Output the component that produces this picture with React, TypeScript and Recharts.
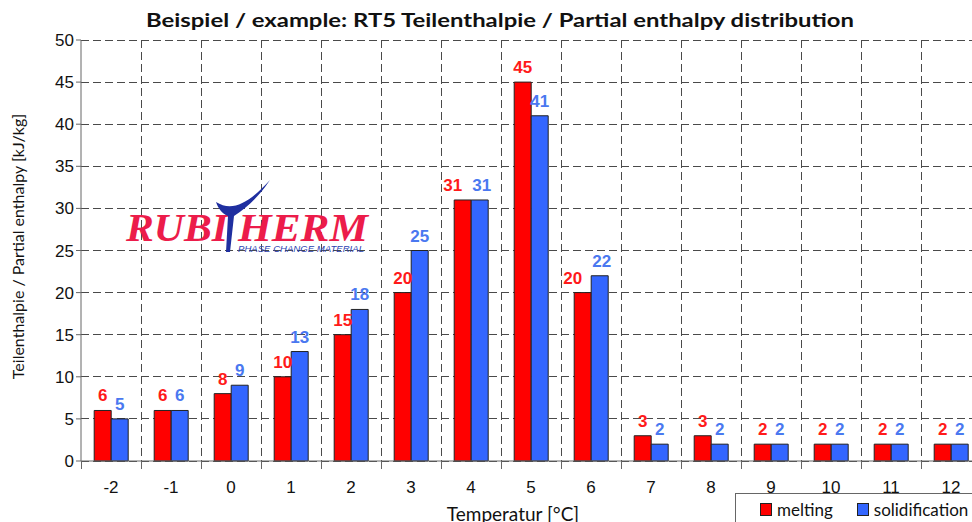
import {
  Bar,
  BarChart,
  CartesianGrid,
  LabelList,
  XAxis,
  YAxis,
} from "recharts";

const temperatures = ["-2", "-1", "0", "1", "2", "3", "4", "5", "6", "7", "8", "9", "10", "11", "12"];
const melting = [6, 6, 8, 10, 15, 20, 31, 45, 20, 3, 3, 2, 2, 2, 2];
const solidification = [5, 6, 9, 13, 18, 25, 31, 41, 22, 2, 2, 2, 2, 2, 2];
const yTicks = [0, 5, 10, 15, 20, 25, 30, 35, 40, 45, 50];

const TITLE = "Beispiel / example: RT5 Teilenthalpie / Partial enthalpy distribution";
const Y_LABEL = "Teilenthalpie / Partial enthalpy [kJ/kg]";
const X_LABEL = "Temperatur [°C]";

const SERIES = {
  melting: { label: "melting", fill: "#ff0000", text: "#ff1a1a" },
  solidification: { label: "solidification", fill: "#3366ff", text: "#4a78f0" },
};

const data = temperatures.map((t, i) => ({
  t,
  melting: melting[i],
  solidification: solidification[i],
}));

const CHART_W = 990;
const CHART_H = 522;
const MARGIN = { top: 40, right: 9, bottom: 0, left: 0 };
const Y_W = 81;
const X_H = 61;
const PLOT_W = CHART_W - MARGIN.left - MARGIN.right - Y_W;
const BAND = PLOT_W / temperatures.length;

const GRID = "#4a4a4a";
const TXT = "#111";
const NUM_FONT = "Liberation Sans, Arial, sans-serif";
const UI_FONT = "Lato, Calibri, sans-serif";

// x tick: category label plus a short tick mark at the category's left boundary
function XTick(props: any) {
  const { x, y, payload, index } = props;
  const left = Math.round(x - BAND / 2) + 0.5;
  return (
    <g>
      <line x1={left} x2={left} y1={y - 8} y2={y} stroke="#666" />
      {index === temperatures.length - 1 && (
        <line x1={left + BAND} x2={left + BAND} y1={y - 8} y2={y} stroke="#666" />
      )}
      <text x={x} y={y + 24} textAnchor="middle" fontSize={17} fill={TXT} fontFamily={NUM_FONT}>
        {payload.value}
      </text>
    </g>
  );
}

// value label; when both labels of a category would collide, push them apart like Excel does
function makeLabel(key: "melting" | "solidification") {
  return function ValueLabel(props: any) {
    const { x, y, width, value, index } = props;
    const other = key === "melting" ? solidification[index] : melting[index];
    const digits = String(value).length;
    const collide = digits > 1 && Math.abs(other - value) < 2.5;
    const shift = collide ? (key === "melting" ? -10 : 2) : 0;
    return (
      <text
        x={x + width / 2 + shift} y={y - 9} textAnchor="middle"
        fill={SERIES[key].text} fontSize={17} fontWeight="bold" fontFamily={NUM_FONT}
      >
        {value}
      </text>
    );
  };
}

function Logo() {
  return (
    <svg width={260} height={82} style={{ position: "absolute", left: 120, top: 176 }}>
      <text
        x={6} y={65} fontFamily="Liberation Serif, serif" fontWeight="bold" fontStyle="italic"
        fontSize={39} fill="#ec1c4a" textLength={102} lengthAdjust="spacingAndGlyphs"
      >
        RUBI
      </text>
      <text
        x={118} y={65} fontFamily="Liberation Serif, serif" fontWeight="bold" fontStyle="italic"
        fontSize={39} fill="#ec1c4a" textLength={130} lengthAdjust="spacingAndGlyphs"
      >
        HERM
      </text>
      {/* swoosh "T" */}
      <path d="M96 26 C112 36 128 28 150 4 C138 22 126 32 114 40 L110 76 L106 76 L108 40 C102 38 98 32 96 26 Z" fill="#1f2fa0" />
      <text
        x={118} y={76} fontFamily={NUM_FONT} fontStyle="italic"
        fontSize={9} fill="#2b3fb0" textLength={126} lengthAdjust="spacingAndGlyphs"
      >
        PHASE CHANGE MATERIAL
      </text>
    </svg>
  );
}

function LegendBox() {
  const item = (key: keyof typeof SERIES, gap: number) => (
    <span style={{ display: "inline-flex", alignItems: "center", marginRight: gap }}>
      <span
        style={{
          display: "inline-block", width: 10, height: 11,
          background: SERIES[key].fill, border: "1px solid #222", marginRight: 5,
        }}
      />
      <span>{SERIES[key].label}</span>
    </span>
  );
  return (
    <div
      style={{
        position: "absolute", left: 735, top: 493, width: 260, height: 40,
        border: "1px solid #666", background: "#fff", boxSizing: "border-box",
        fontFamily: UI_FONT, fontSize: 17, color: TXT,
        padding: "5px 0 0 24px", whiteSpace: "nowrap",
      }}
    >
      {item("melting", 24)}
      {item("solidification", 0)}
    </div>
  );
}

export default function App() {
  return (
    <div
      style={{
        position: "absolute", left: 0, top: 0, width: 972, height: 522,
        overflow: "hidden", background: "#fff",
      }}
    >
      <BarChart
        width={CHART_W} height={CHART_H} data={data} margin={MARGIN}
        barCategoryGap="22%" barGap={0}
      >
        <CartesianGrid
          stroke={GRID} strokeDasharray="8 4" shapeRendering="crispEdges"
          verticalCoordinatesGenerator={({ offset }: any) =>
            temperatures.slice(1).map((_, i) => offset.left + (i + 1) * BAND)
          }
        />
        <XAxis
          dataKey="t" height={X_H} interval={0}
          axisLine={{ stroke: "#666" }} tickLine={false}
          tick={<XTick />}
          label={({ viewBox }: any) => (
            <text
              x={viewBox.x + viewBox.width / 2 - 18} y={viewBox.y + 60} textAnchor="middle"
              fontSize={19} fill={TXT} fontFamily={UI_FONT}
            >
              {X_LABEL}
            </text>
          )}
        />
        <YAxis
          width={Y_W} domain={[0, 50]} ticks={yTicks} interval={0}
          axisLine={{ stroke: "#666" }} tickLine={{ stroke: "#666" }} tickSize={5}
          tick={{ fontSize: 17, fill: TXT, fontFamily: NUM_FONT }}
          label={({ viewBox }: any) => (
            <text
              x={24} y={viewBox.y + viewBox.height / 2 - 4} textAnchor="middle"
              transform={`rotate(-90 24 ${viewBox.y + viewBox.height / 2 - 4})`}
              fontSize={16} fill={TXT} fontFamily={UI_FONT}
            >
              {Y_LABEL}
            </text>
          )}
        />
        <Bar dataKey="melting" fill={SERIES.melting.fill} stroke="#222" strokeWidth={1} isAnimationActive={false}>
          <LabelList dataKey="melting" content={makeLabel("melting")} />
        </Bar>
        <Bar dataKey="solidification" fill={SERIES.solidification.fill} stroke="#222" strokeWidth={1} isAnimationActive={false}>
          <LabelList dataKey="solidification" content={makeLabel("solidification")} />
        </Bar>
      </BarChart>

      <svg width={972} height={40} style={{ position: "absolute", left: 0, top: 0 }}>
        <text
          x={500} y={27} textAnchor="middle" fontSize={19} fontWeight="bold" fill={TXT}
          fontFamily={UI_FONT} textLength={708} lengthAdjust="spacingAndGlyphs"
        >
          {TITLE}
        </text>
      </svg>
      <Logo />
      <LegendBox />
    </div>
  );
}
